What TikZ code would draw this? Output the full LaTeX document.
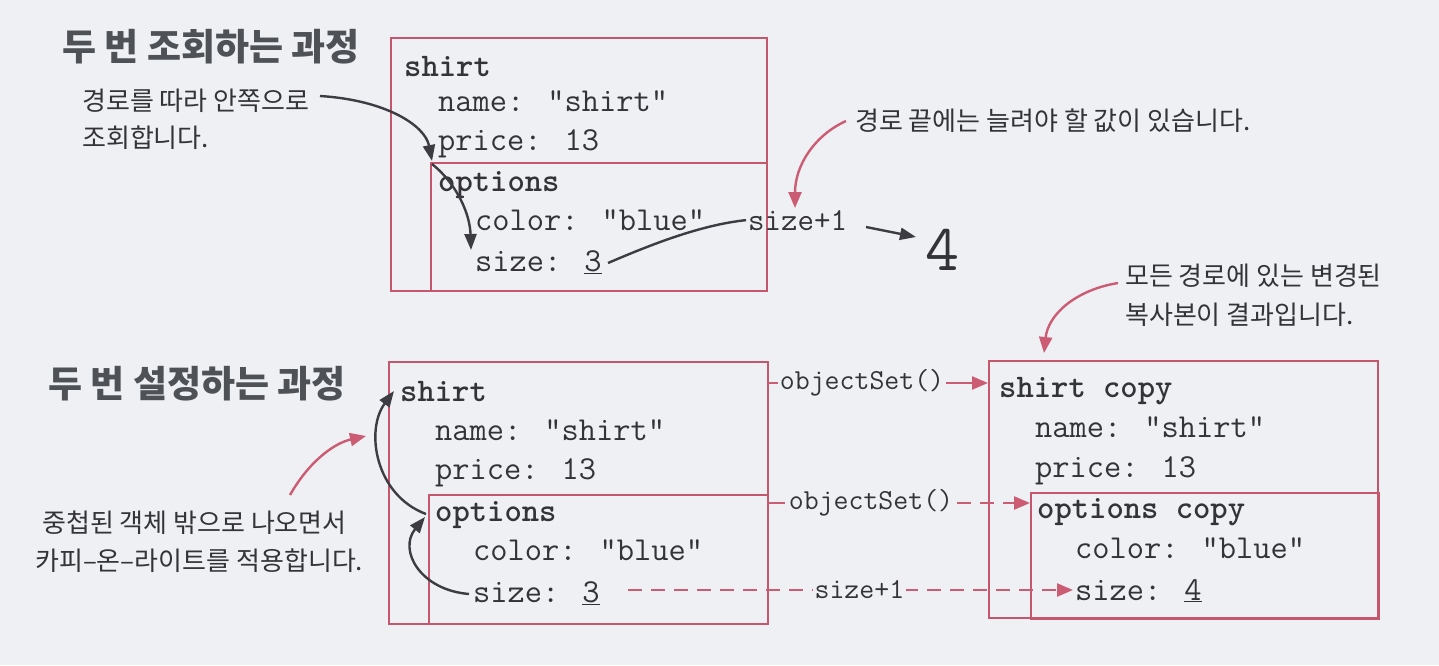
\documentclass[tikz,border=0pt]{standalone}
\usepackage{fontspec}
\newfontfamily\kr{Noto Sans CJK KR}
\usetikzlibrary{arrows.meta}
\definecolor{bg}{HTML}{EEF0F4}
\definecolor{boxc}{HTML}{C4566E}
\definecolor{pinkc}{HTML}{CC5C74}
\definecolor{dark}{HTML}{3C3C42}
\definecolor{txt}{HTML}{333338}
\definecolor{headc}{HTML}{4E5156}
\begin{document}
\begin{tikzpicture}[x=1pt,y=-1pt,
 boxr/.style={draw=boxc, line width=2.2pt, anchor=north west, inner sep=0pt},
 code/.style={font=\fontsize{33.5}{34}\selectfont\ttfamily, text=txt, anchor=base west, inner sep=0pt},
 codeb/.style={code, font=\fontsize{33}{34}\selectfont\ttfamily\bfseries},
 codes/.style={font=\fontsize{29}{29}\selectfont\ttfamily, text=txt, inner sep=2pt, fill=bg},
 lab/.style={font=\fontsize{26}{26}\selectfont\kr, text=txt, anchor=base west, inner sep=0pt},
 headr/.style={font=\fontsize{37}{37}\selectfont\kr\bfseries, text=headc, anchor=base west, inner sep=0pt},
 darr/.style={draw=dark, line width=2.4pt, -{Triangle[length=16pt,width=12pt]}},
 parr/.style={draw=pinkc, line width=2.4pt, -{Triangle[length=16pt,width=13pt]}},
 pline/.style={draw=pinkc, line width=2.4pt},
 pdash/.style={pline, dash pattern=on 14pt off 9pt},
]
\useasboundingbox (0,0) rectangle (1439,665);
\fill[bg] (0,0) rectangle (1439,665);

% ---------- top: 두 번 조회하는 과정 ----------
\node[headr] (h1) at (62,60) {두 번 조회하는 과정};
\node[lab] (l1a) at (82,110) {경로를 따라 안쪽으로};
\node[lab] (l1b) at (82,147) {조회합니다.};

\node[boxr, minimum width=376pt, minimum height=253pt] (tb) at (390,37) {};
\node[boxr, minimum width=336pt, minimum height=128pt] (to) at (430,162) {};
\node[codeb] (ts) at (404,76) {shirt};
\node[code] (tn) at (438,111) {name: "shirt"};
\node[code] (tp) at (438,150) {price: 13};
\node[codeb] (top) at (438,191) {options};
\node[code] (tc) at (475,230) {color: "blue"};
\node[code] (tz) at (475,271) {size: \underline{3}};

\node[codes, font=\fontsize{32}{32}\selectfont\ttfamily, anchor=base west, fill=none] (tinc) at (746,230) {size+1};
\node[font=\fontsize{66}{66}\selectfont\ttfamily, text=txt, anchor=base west, inner sep=0pt] (four) at (925,270) {4};
\node[lab] (l2) at (855,130) {경로 끝에는 늘려야 할 값이 있습니다.};

\coordinate (a1s) at (320,96);
\coordinate (a1e) at (432,161);
\coordinate (a2s) at (432,164);
\coordinate (a2e) at (471,250);
\draw[darr] (a1s) .. controls (385,100) and (425,125) .. (a1e);
\draw[darr] (a2s) .. controls (458,185) and (470,215) .. (a2e);
\coordinate (c3) at (608,263);
\draw[dark, line width=2.4pt] (c3) .. controls (650,245) and (700,225) .. (tinc.west);
\draw[darr] (866,227) -- (916,237);
\coordinate (p1s) at (846,121);
\draw[parr] (p1s) .. controls (815,135) and (795,165) .. (795,208);

% ---------- bottom: 두 번 설정하는 과정 ----------
\node[headr] (h2) at (48,397) {두 번 설정하는 과정};
\node[lab] (l3a) at (42,532) {중첩된 객체 밖으로 나오면서};
\node[lab] (l3b) at (35,570) {카피–온–라이트를 적용합니다.};

\node[boxr, minimum width=379pt, minimum height=262pt] (bb) at (388,361) {};
\node[boxr, minimum width=339pt, minimum height=129pt] (bo) at (428,494) {};
\node[codeb] (bs) at (400,401) {shirt};
\node[code] (bn) at (435,440) {name: "shirt"};
\node[code] (bp) at (435,479) {price: 13};
\node[codeb] (bop) at (435,521) {options};
\node[code] (bc) at (473,560) {color: "blue"};
\node[code] (bz) at (473,602) {size: \underline{3}};

\node[boxr, minimum width=389pt, minimum height=257pt] (rb) at (988,360) {};
\node[boxr, minimum width=348pt, minimum height=126pt] (ro) at (1030,492) {};
\node[codeb] (rs) at (999,397) {shirt copy};
\node[code] (rn) at (1035,437) {name: "shirt"};
\node[code] (rp) at (1035,477) {price: 13};
\node[codeb] (rop) at (1037,518) {options copy};
\node[code] (rc) at (1075,558) {color: "blue"};
\node[code] (rz) at (1075,600) {size: \underline{4}};

\node[lab] (l4a) at (1125,285) {모든 경로에 있는 변경된};
\node[lab] (l4b) at (1125,324) {복사본이 결과입니다.};

% connectors
\coordinate (o1s) at (767,383);
\coordinate (o1e) at (988,383);
\draw[parr] (o1s) -- node[codes, pos=0.43] (os1) {objectSet()} (o1e);
\coordinate (o2s) at (767,503);
\coordinate (o2e) at (1030,503);
\draw[pline] (o2s) -- (785,503);
\draw[pdash, -{Triangle[length=16pt,width=13pt]}] (957,503) -- (o2e);
\node[codes] (os2) at (871,503) {objectSet()};
\coordinate (s1s) at (628,590);
\coordinate (s1e) at (1073,590);
\draw[pdash, -{Triangle[length=16pt,width=13pt]}] (s1s) -- node[codes, pos=0.52] (sinc) {size+1} (s1e);

\draw[parr] (290,495) .. controls (310,460) and (335,443) .. (366,436);
\draw[parr] (1118,283) .. controls (1075,290) and (1048,315) .. (1044,353);

\coordinate (d1s) at (469,594);
\coordinate (d1e) at (425,517);
\draw[darr] (d1s) .. controls (420,590) and (398,550) .. (d1e);
\coordinate (d2s) at (426,514);
\coordinate (d2e) at (394,391);
\draw[darr] (d2s) .. controls (375,495) and (365,430) .. (d2e);
\end{tikzpicture}
\end{document}
